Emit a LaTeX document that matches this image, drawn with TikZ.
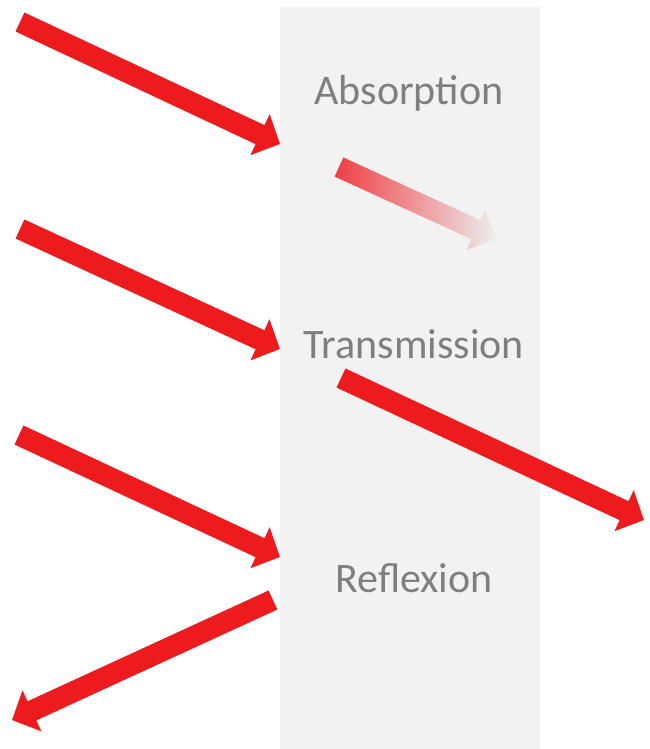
\documentclass[tikz,border=0pt]{standalone}
\usepackage{fontspec}
\setmainfont{Carlito}
\usetikzlibrary{arrows.meta}
\definecolor{beamred}{HTML}{EE1B1E}
\definecolor{fadered}{HTML}{EE3F43}
\definecolor{slab}{HTML}{F2F2F2}
\definecolor{labelgray}{HTML}{7F7F7F}
\tikzset{
  beam/.style={draw=beamred, line width=21pt, line cap=butt,
    -{Triangle[width=44pt,length=22pt]}},
  slablabel/.style={anchor=base, text=labelgray, inner sep=0pt,
    font=\fontsize{42}{44}\selectfont}
}
\begin{document}
\begin{tikzpicture}[x=1pt,y=-1pt]
  \useasboundingbox (0,0) rectangle (650,749);
  % material slab
  \fill[slab] (280,7) rectangle (540,749);

  % labels
  \node[slablabel] (abs) at (409,105) {Absorption};
  \node[slablabel] (tra) at (414,358) {Transmission};
  \node[slablabel] (ref) at (414,592) {Reflexion};

  % beam end points
  \coordinate (a0) at (20,22);   \coordinate (a1) at (280,144);
  \coordinate (t0) at (20,229);  \coordinate (t1) at (280,349);
  \coordinate (t2) at (341,378); \coordinate (t3) at (644,520);
  \coordinate (r0) at (19,435);  \coordinate (r1) at (280,557);
  \coordinate (r2) at (273,600); \coordinate (r3) at (12,720);

  % incoming beams
  \draw[beam] (a0) -- (a1);
  \draw[beam] (t0) -- (t1);
  \draw[beam] (r0) -- (r1);
  % transmitted and reflected beams
  \draw[beam] (t2) -- (t3);
  \draw[beam] (r2) -- (r3);

  % absorbed beam, fading out inside the slab
  \begin{scope}[shift={(339,167)}, rotate=-24.6]
    \shade[left color=fadered, right color=slab!98!black]
      (0,-10.5) -- (150.7,-10.5) -- (150.7,-22) -- (172.7,0)
      -- (150.7,22) -- (150.7,10.5) -- (0,10.5) -- cycle;
  \end{scope}
\end{tikzpicture}
\end{document}
